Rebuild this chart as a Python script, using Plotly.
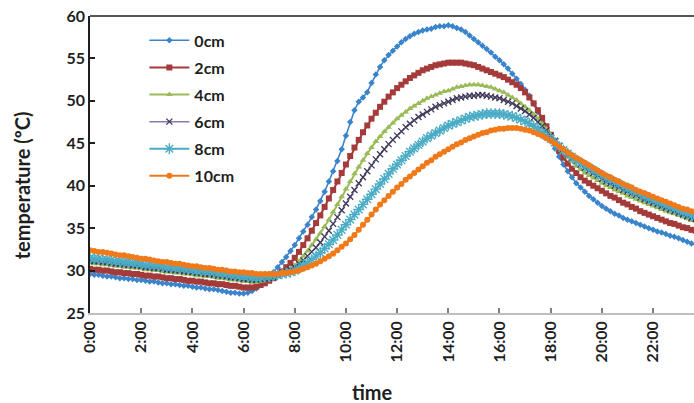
import plotly.graph_objects as go

# Sampling times, every 10 minutes over the day (labels "H:MM")
times = [f"{h}:{m:02d}" for h in range(24) for m in range(0, 60, 10)]
hours = [int(t.split(":")[0]) + int(t.split(":")[1]) / 60 for t in times]

# Soil temperature (ºC) at each depth, one row of six readings per hour
temp_0cm = [
    29.6, 29.5, 29.5, 29.4, 29.3, 29.3,
    29.2, 29.1, 29.1, 29.0, 29.0, 28.9,
    28.9, 28.8, 28.7, 28.7, 28.6, 28.5,
    28.5, 28.4, 28.4, 28.3, 28.2, 28.2,
    28.1, 28.0, 28.0, 27.9, 27.8, 27.8,
    27.7, 27.6, 27.5, 27.4, 27.4, 27.3,
    27.3, 27.4, 27.6, 27.9, 28.3, 28.8,
    29.3, 29.8, 30.4, 31.0, 31.6, 32.3,
    33.0, 33.8, 34.6, 35.4, 36.3, 37.2,
    38.2, 39.3, 40.5, 41.7, 42.9, 44.3,
    45.9, 47.5, 48.9, 49.9, 50.4, 51.0,
    52.1, 53.1, 54.0, 54.8, 55.4, 55.9,
    56.4, 56.9, 57.3, 57.6, 57.9, 58.1,
    58.3, 58.4, 58.5, 58.7, 58.8, 58.8,
    58.9, 58.8, 58.6, 58.4, 58.1, 57.7,
    57.3, 56.9, 56.5, 56.1, 55.7, 55.2,
    54.8, 54.3, 53.8, 53.2, 52.6, 52.0,
    51.3, 50.6, 49.7, 48.7, 47.7, 46.6,
    45.5, 44.4, 43.4, 42.5, 41.7, 41.0,
    40.3, 39.8, 39.3, 38.8, 38.4, 38.0,
    37.6, 37.3, 37.0, 36.7, 36.5, 36.2,
    36.0, 35.8, 35.6, 35.4, 35.2, 35.0,
    34.8, 34.6, 34.5, 34.3, 34.1, 34.0,
    33.8, 33.6, 33.4, 33.2, 33.1, 33.0,
]

temp_2cm = [
    30.2, 30.1, 30.1, 30.0, 30.0, 29.9,
    29.8, 29.8, 29.7, 29.7, 29.6, 29.6,
    29.5, 29.4, 29.4, 29.3, 29.3, 29.2,
    29.1, 29.1, 29.0, 29.0, 28.9, 28.8,
    28.8, 28.7, 28.7, 28.6, 28.5, 28.5,
    28.4, 28.4, 28.3, 28.2, 28.2, 28.1,
    28.0, 28.0, 28.0, 28.1, 28.3, 28.5,
    28.8, 29.1, 29.5, 29.9, 30.4, 30.9,
    31.5, 32.2, 33.0, 33.8, 34.7, 35.6,
    36.5, 37.5, 38.5, 39.5, 40.5, 41.5,
    42.5, 43.5, 44.5, 45.4, 46.3, 47.1,
    47.9, 48.6, 49.3, 49.9, 50.5, 51.0,
    51.5, 51.9, 52.3, 52.7, 53.0, 53.3,
    53.6, 53.8, 54.0, 54.2, 54.3, 54.4,
    54.5, 54.5, 54.5, 54.5, 54.4, 54.3,
    54.2, 54.0, 53.8, 53.6, 53.4, 53.2,
    53.0, 52.8, 52.5, 52.2, 51.9, 51.5,
    51.0, 50.4, 49.7, 48.9, 48.0, 47.0,
    46.0, 45.0, 44.1, 43.3, 42.6, 42.0,
    41.5, 41.0, 40.6, 40.3, 40.0, 39.7,
    39.4, 39.1, 38.8, 38.6, 38.3, 38.0,
    37.8, 37.5, 37.3, 37.0, 36.8, 36.6,
    36.4, 36.2, 36.0, 35.8, 35.6, 35.5,
    35.3, 35.1, 35.0, 34.8, 34.7, 34.6,
]

temp_4cm = [
    30.9, 30.8, 30.8, 30.7, 30.7, 30.6,
    30.5, 30.5, 30.4, 30.4, 30.3, 30.3,
    30.2, 30.1, 30.1, 30.0, 30.0, 29.9,
    29.8, 29.8, 29.7, 29.7, 29.6, 29.6,
    29.5, 29.4, 29.4, 29.3, 29.3, 29.2,
    29.1, 29.1, 29.0, 28.9, 28.9, 28.8,
    28.7, 28.7, 28.6, 28.6, 28.7, 28.8,
    28.9, 29.1, 29.3, 29.6, 29.9, 30.2,
    30.6, 31.1, 31.7, 32.3, 33.0, 33.7,
    34.4, 35.2, 36.0, 36.9, 37.8, 38.7,
    39.6, 40.5, 41.4, 42.2, 43.0, 43.8,
    44.5, 45.2, 45.8, 46.4, 46.9, 47.4,
    47.9, 48.3, 48.7, 49.1, 49.4, 49.7,
    50.0, 50.3, 50.5, 50.7, 50.9, 51.1,
    51.2, 51.4, 51.6, 51.7, 51.8, 51.9,
    51.9, 51.9, 51.8, 51.7, 51.6, 51.4,
    51.2, 51.0, 50.7, 50.4, 50.1, 49.7,
    49.3, 48.9, 48.4, 47.9, 47.3, 46.7,
    46.0, 45.3, 44.6, 44.0, 43.4, 42.9,
    42.3, 41.9, 41.5, 41.2, 40.9, 40.6,
    40.3, 40.0, 39.8, 39.5, 39.3, 39.1,
    38.8, 38.6, 38.4, 38.2, 38.0, 37.8,
    37.6, 37.4, 37.2, 37.0, 36.8, 36.7,
    36.5, 36.3, 36.1, 35.9, 35.8, 35.7,
]

temp_6cm = [
    31.2, 31.1, 31.1, 31.0, 31.0, 30.9,
    30.8, 30.8, 30.7, 30.7, 30.6, 30.6,
    30.5, 30.4, 30.4, 30.3, 30.3, 30.2,
    30.1, 30.1, 30.0, 30.0, 29.9, 29.9,
    29.8, 29.7, 29.7, 29.6, 29.6, 29.5,
    29.4, 29.4, 29.3, 29.2, 29.2, 29.1,
    29.0, 29.0, 28.9, 28.9, 29.0, 29.0,
    29.1, 29.2, 29.4, 29.6, 29.8, 30.1,
    30.4, 30.8, 31.2, 31.7, 32.2, 32.7,
    33.3, 34.0, 34.7, 35.5, 36.3, 37.1,
    37.9, 38.7, 39.5, 40.3, 41.0, 41.7,
    42.4, 43.1, 43.7, 44.3, 44.9, 45.4,
    45.9, 46.4, 46.9, 47.3, 47.7, 48.1,
    48.4, 48.7, 49.0, 49.3, 49.5, 49.7,
    49.9, 50.1, 50.3, 50.4, 50.5, 50.6,
    50.6, 50.7, 50.7, 50.6, 50.5, 50.4,
    50.3, 50.1, 49.9, 49.7, 49.4, 49.1,
    48.8, 48.4, 48.0, 47.5, 47.0, 46.5,
    45.9, 45.3, 44.7, 44.2, 43.7, 43.3,
    42.9, 42.5, 42.1, 41.8, 41.5, 41.2,
    40.8, 40.5, 40.3, 40.0, 39.8, 39.5,
    39.3, 39.1, 38.9, 38.6, 38.4, 38.2,
    38.0, 37.8, 37.6, 37.4, 37.2, 37.0,
    36.8, 36.6, 36.4, 36.2, 36.1, 36.0,
]

temp_8cm = [
    31.5, 31.4, 31.4, 31.3, 31.3, 31.2,
    31.1, 31.1, 31.0, 31.0, 30.9, 30.9,
    30.8, 30.7, 30.7, 30.6, 30.6, 30.5,
    30.4, 30.4, 30.3, 30.3, 30.2, 30.2,
    30.1, 30.0, 30.0, 29.9, 29.9, 29.8,
    29.7, 29.7, 29.6, 29.5, 29.5, 29.4,
    29.3, 29.3, 29.2, 29.2, 29.2, 29.3,
    29.3, 29.4, 29.5, 29.6, 29.7, 29.8,
    30.0, 30.3, 30.6, 30.9, 31.3, 31.7,
    32.1, 32.6, 33.1, 33.6, 34.2, 34.8,
    35.4, 36.0, 36.6, 37.2, 37.8, 38.4,
    39.0, 39.6, 40.2, 40.8, 41.4, 42.0,
    42.5, 43.0, 43.5, 44.0, 44.4, 44.8,
    45.2, 45.6, 45.9, 46.2, 46.5, 46.8,
    47.1, 47.3, 47.5, 47.7, 47.9, 48.1,
    48.2, 48.3, 48.4, 48.5, 48.5, 48.5,
    48.5, 48.4, 48.3, 48.2, 48.0, 47.8,
    47.6, 47.3, 47.0, 46.7, 46.3, 45.9,
    45.5, 45.1, 44.6, 44.2, 43.8, 43.4,
    43.0, 42.7, 42.4, 42.1, 41.8, 41.5,
    41.2, 40.9, 40.7, 40.4, 40.2, 39.9,
    39.7, 39.4, 39.2, 39.0, 38.8, 38.5,
    38.3, 38.1, 37.9, 37.7, 37.5, 37.3,
    37.1, 36.9, 36.7, 36.5, 36.4, 36.3,
]

temp_10cm = [
    32.4, 32.3, 32.2, 32.2, 32.1, 32.0,
    31.9, 31.8, 31.8, 31.7, 31.6, 31.5,
    31.4, 31.4, 31.3, 31.2, 31.1, 31.0,
    31.0, 30.9, 30.8, 30.8, 30.7, 30.6,
    30.5, 30.5, 30.4, 30.3, 30.3, 30.2,
    30.1, 30.1, 30.0, 29.9, 29.9, 29.8,
    29.8, 29.7, 29.7, 29.6, 29.6, 29.6,
    29.6, 29.6, 29.6, 29.7, 29.7, 29.8,
    29.9, 30.0, 30.2, 30.4, 30.6, 30.8,
    31.1, 31.4, 31.7, 32.0, 32.4, 32.8,
    33.2, 33.7, 34.2, 34.8, 35.4, 36.0,
    36.6, 37.2, 37.8, 38.3, 38.8, 39.3,
    39.8, 40.2, 40.7, 41.1, 41.5, 41.9,
    42.3, 42.7, 43.0, 43.4, 43.7, 44.0,
    44.3, 44.6, 44.9, 45.1, 45.4, 45.6,
    45.8, 46.0, 46.2, 46.3, 46.5, 46.6,
    46.7, 46.7, 46.8, 46.8, 46.8, 46.7,
    46.6, 46.5, 46.3, 46.1, 45.9, 45.6,
    45.3, 45.0, 44.6, 44.3, 43.9, 43.6,
    43.3, 43.0, 42.7, 42.4, 42.1, 41.8,
    41.5, 41.2, 41.0, 40.7, 40.5, 40.2,
    40.0, 39.8, 39.5, 39.3, 39.1, 38.9,
    38.7, 38.5, 38.3, 38.1, 37.9, 37.7,
    37.5, 37.3, 37.2, 37.0, 36.9, 36.8,
]

depth_labels = ["0cm", "2cm", "4cm", "6cm", "8cm", "10cm"]
tick_hours = [0, 2, 4, 6, 8, 10, 12, 14, 16, 18, 20, 22]
tick_labels = ["0:00", "2:00", "4:00", "6:00", "8:00", "10:00",
               "12:00", "14:00", "16:00", "18:00", "20:00", "22:00"]

series = [temp_0cm, temp_2cm, temp_4cm, temp_6cm, temp_8cm, temp_10cm]
styles = [
    dict(line="#3A84CC", lw=1.6, marker=dict(symbol="diamond", size=5, color="#3A84CC")),
    dict(line="#A53A3A", lw=2, marker=dict(symbol="square", size=6, color="#A53A3A")),
    dict(line="#9BBB59", lw=2, marker=dict(symbol="triangle-up", size=6, color="#9BBB59")),
    dict(line="#8A78AE", lw=1.5, marker=dict(symbol="x-thin-open", size=6, color="#3E3856",
                                             line=dict(width=1.3, color="#3E3856"))),
    dict(line="#4BACC6", lw=2, marker=dict(symbol="asterisk-open", size=9, color="#4BACC6",
                                           line=dict(width=1.4, color="#4BACC6"))),
    dict(line="#F07A1A", lw=2, marker=dict(symbol="circle", size=6, color="#F07A1A")),
]

fig = go.Figure()
for name, values, st in zip(depth_labels, series, styles):
    fig.add_trace(go.Scatter(
        x=hours, y=values, name=name, mode="lines+markers",
        legendgroup=name,
        line=dict(color=st["line"], width=st["lw"]),
        marker=st["marker"],
    ))

text_font = dict(family="Lato", color="#1e1e1e", weight="bold")

fig.update_layout(
    width=694, height=403,
    margin=dict(l=90, r=0, t=16, b=90),
    paper_bgcolor="white", plot_bgcolor="white",
    font=dict(family="Lato", color="#1e1e1e"),
    showlegend=True,
    legend=dict(
        x=0.09, y=0.975, xanchor="left", yanchor="top",
        bgcolor="rgba(0,0,0,0)", borderwidth=0,
        font=dict(size=16, **text_font),
        traceorder="grouped", tracegroupgap=3.3, itemwidth=40,
    ),
    xaxis=dict(
        range=[0, 23.6], tickvals=tick_hours, ticktext=tick_labels,
        tickangle=-90, tickfont=dict(size=16, **text_font),
        ticks="inside", ticklen=5, tickcolor="#7f7f7f", tickwidth=1.5,
        showline=True, linecolor="#bfbfbf", linewidth=1.5,
        showgrid=False, zeroline=False,
    ),
    yaxis=dict(
        range=[25, 60], dtick=5, tickfont=dict(size=16, **text_font),
        ticks="inside", ticklen=5, tickcolor="#1e1e1e", tickwidth=1.5,
        showline=True, linecolor="#1e1e1e", linewidth=1.5,
        showgrid=False, zeroline=False,
    ),
    shapes=[dict(type="line", xref="paper", yref="paper", x0=0, x1=1, y0=1, y1=1,
                 line=dict(color="#1e1e1e", width=1.5))],
    annotations=[
        dict(text="temperature (ºC)", textangle=-90, showarrow=False,
             xref="paper", yref="paper", x=-0.1126, y=0.43,
             xanchor="center", yanchor="middle",
             font=dict(size=20, **text_font)),
        dict(text="time", showarrow=False,
             xref="paper", yref="paper", x=0.4685, y=-0.266,
             xanchor="center", yanchor="middle",
             font=dict(size=20, **text_font)),
    ],
)

fig.write_html("out.html")
